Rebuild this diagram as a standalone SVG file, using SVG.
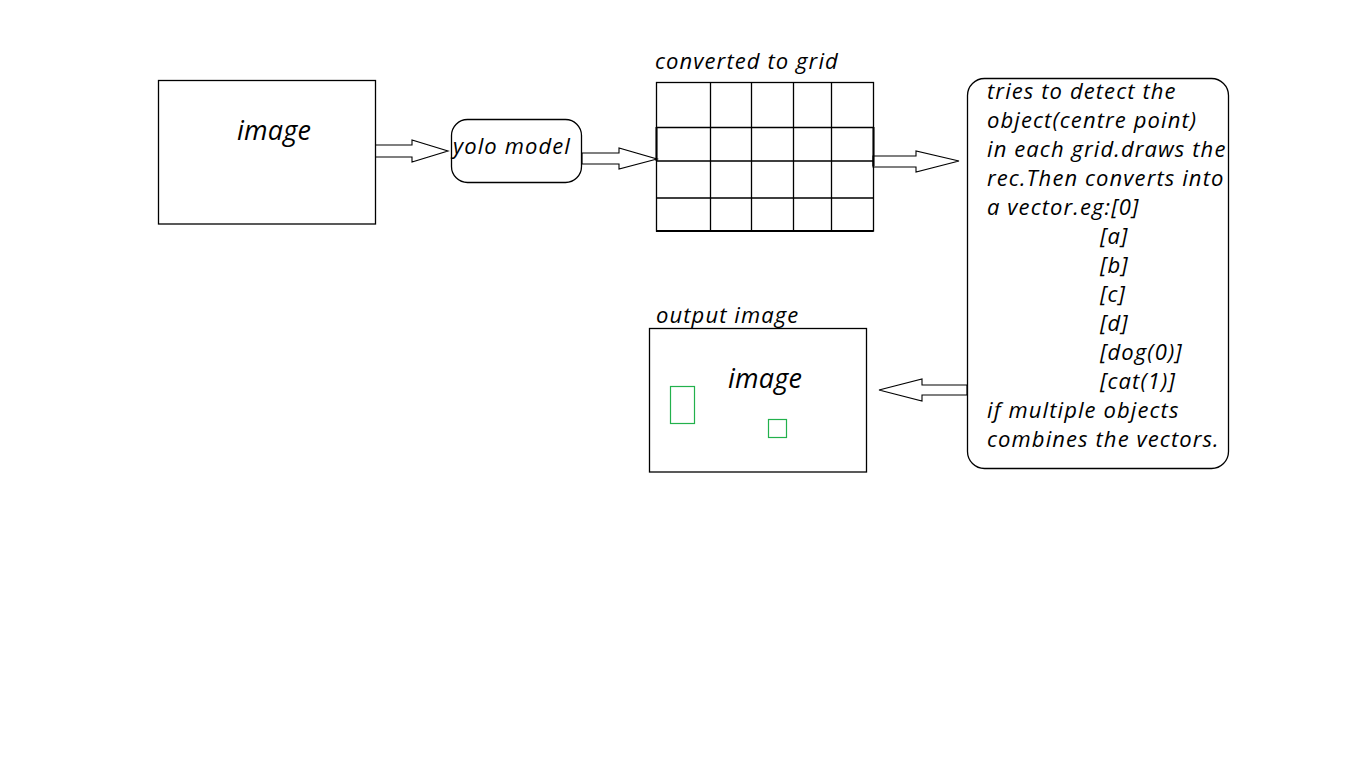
<svg xmlns="http://www.w3.org/2000/svg" width="1346" height="766" viewBox="0 0 1346 766">
<style>
.box{fill:#fff;stroke:#000;stroke-width:1.3}
.grid{fill:none;stroke:#000;stroke-width:1.3}
.arr{fill:#fff;stroke:#000;stroke-width:1.1;stroke-linejoin:miter}
.g{fill:none;stroke:#22b14c;stroke-width:1.2}
text{font-family:"Open Sans","Noto Sans",sans-serif;font-style:italic;fill:#000}
.t{font-size:22px;letter-spacing:1.1px}
.big{font-size:27px;letter-spacing:0.2px}
</style>
<rect width="1346" height="766" fill="#fff"/>
<g id="connectors">
<polygon class="arr" points="375,145 412,145 412,140 448,151 412,162 412,157 375,157"/>
<polygon class="arr" points="582,153 619,153 619,148 657,159 619,169 619,164 582,164"/>
<polygon class="arr" points="873,156 916,156 916,151 959,161 916,172 916,167 873,167"/>
<polygon class="arr" points="967,385 922,385 922,379 879,390 922,401 922,395 967,395"/>
</g>
<g id="input-image">
<rect class="box" x="158.5" y="80.5" width="217" height="143.5"/>
<text class="big" x="237" y="140">image</text>
</g>
<g id="yolo-model">
<rect class="box" x="451.5" y="119.5" width="130" height="63" rx="16" ry="16"/>
<text class="t" x="453" y="154">yolo model</text>
</g>
<g id="grid">
<text class="t" x="655" y="69">converted to grid</text>
<rect class="grid" x="656.5" y="82.5" width="217" height="148.5"/>
<path class="grid" d="M710.5 82.5V231M751.5 82.5V231M793.5 82.5V231M831.5 82.5V231M656.5 127.5H873.5M656.5 161H873.5M656.5 198H873.5"/>
<path d="M656.5 127V161M873.5 127V166M656 231H873.5" stroke="#000" stroke-width="2" fill="none"/>
</g>
<g id="detect">
<rect class="box" x="967.5" y="78.5" width="261" height="390" rx="17" ry="17"/>
<text class="t" x="987" y="99">tries to detect the</text>
<text class="t" x="987" y="128">object(centre point)</text>
<text class="t" x="987" y="157">in each grid.draws the</text>
<text class="t" x="987" y="186">rec.Then converts into</text>
<text class="t" x="987" y="215">a vector.eg:[0]</text>
<text class="t" x="1100" y="244">[a]</text>
<text class="t" x="1100" y="273">[b]</text>
<text class="t" x="1100" y="302">[c]</text>
<text class="t" x="1100" y="331">[d]</text>
<text class="t" x="1100" y="360">[dog(0)]</text>
<text class="t" x="1100" y="389">[cat(1)]</text>
<text class="t" x="987" y="418">if multiple objects</text>
<text class="t" x="987" y="447">combines the vectors.</text>
</g>
<g id="output-image">
<text class="t" x="656" y="323">output image</text>
<rect class="box" x="649.5" y="328.5" width="217" height="143.5"/>
<text class="big" x="728" y="388">image</text>
<rect class="g" x="670.5" y="386.5" width="24" height="37"/>
<rect class="g" x="768.5" y="419.5" width="18" height="18"/>
</g>
</svg>
